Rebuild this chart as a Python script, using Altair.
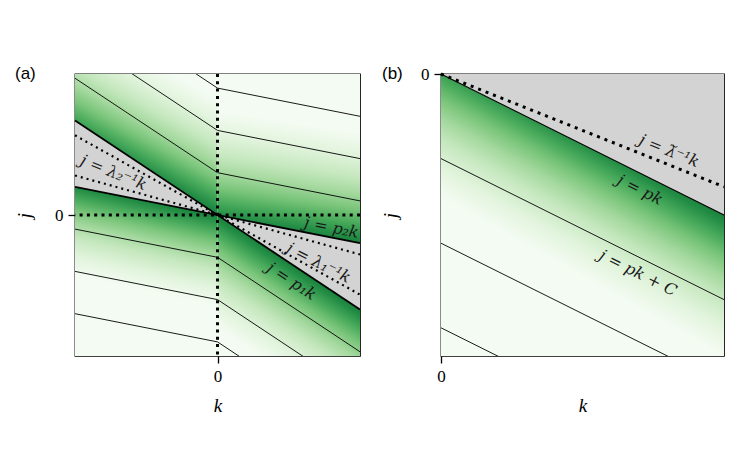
import altair as alt
import pandas as pd

# ---------------- data ----------------
# panel (a): slopes of the boundary lines j = p k, dotted lines j = lambda^-1 k,
# and offsets C of the thin lines j = p k + C
P1 = -0.67
P2 = -0.20
LAM_A = [-0.28, -0.565]
C_A = [0.3, 0.6, 0.9]

# panel (b)
P_B = -0.50
LAM_B = -0.40
C_B = [-0.3, -0.6, -0.9]

LABELS_A = ["j = λ₂⁻¹k", "j = p₂k", "j = λ₁⁻¹k", "j = p₁k"]
LABEL_K_A = [-0.73, 0.80, 0.71, 0.52]
LABEL_J_A = [0.30, -0.09, -0.34, -0.47]
LABEL_ANG_A = [22, 11, 27, 33]

LABELS_B = ["j = λ̆⁻¹k", "j = pk", "j = pk + C"]
LABEL_K_B = [0.806, 0.703, 0.696]
LABEL_J_B = [-0.273, -0.411, -0.706]
LABEL_ANG_B = [22, 26.6, 26.6]

# ---------------- styles ----------------
GREEN_STOPS = [(0.0, "#17803a"), (0.08, "#2a934a"), (0.18, "#4aab5c"),
               (0.30, "#78c479"), (0.45, "#a5d99f"), (0.60, "#c6e8bf"),
               (0.80, "#e2f4dd"), (1.0, "#f4fbf2")]
GRAY = "#d3d3d3"
SERIF = "Liberation Serif"
LABEL_FONT = "DejaVu Serif"
LABEL_SIZE = 16


def gradient(kmin, kmax, jmin, jmax, s, sigma, a_c, a_k, t0):
    """Linear gradient (bbox-normalised) whose parameter t = a_c*c + a_k*k + t0,
    with c = sigma*(j - s*k) the distance from the boundary line."""
    dk = kmax - kmin
    dj = jmax - jmin
    A = dk * (a_k - a_c * sigma * s)
    B = -a_c * sigma * dj
    C0 = a_c * sigma * (jmax - s * kmin) + a_k * kmin + t0
    N = A * A + B * B
    x1 = -C0 * A / N
    y1 = -C0 * B / N
    return alt.Gradient(
        gradient="linear",
        stops=[alt.GradientStop(offset=o, color=c) for o, c in GREEN_STOPS],
        x1=x1, y1=y1, x2=x1 + A / N, y2=y1 + B / N)


def band(k0, k1, lo, hi):
    return pd.DataFrame({"k": [k0, k1], "lo": lo, "hi": hi})


# ---------------- panel (a) ----------------
XA = alt.Scale(domain=[-1, 1], nice=False, zero=False)
YA = alt.Scale(domain=[-1, 1], nice=False, zero=False)
ax_xa = alt.Axis(values=[0], title="k", labelFlush=False)
ax_ya = alt.Axis(values=[0], title="j", labelFlush=False)


def area_a(df, fill):
    return alt.Chart(df).mark_area(color=fill, strokeWidth=0).encode(
        x=alt.X("k:Q", scale=XA, axis=ax_xa),
        y=alt.Y("lo:Q", scale=YA, axis=ax_ya),
        y2="hi:Q")


ul = area_a(band(-1, 0, [P1 * -1, 0], [1, 1]),
            gradient(-1, 0, 0, 1, P1, 1, 1 / 0.82, -0.14, 0.0))
ur = area_a(band(0, 1, [0, P2], [1, 1]),
            gradient(0, 1, P2, 1, P2, 1, 1 / 0.78, -0.06, 0.06))
ll = area_a(band(-1, 0, [-1, -1], [P2 * -1, 0]),
            gradient(-1, 0, -1, -P2, P2, -1, 1 / 0.65, -0.04, 0.0))
lr = area_a(band(0, 1, [-1, -1], [0, P1]),
            gradient(0, 1, -1, 0, P1, -1, 1 / 0.8, 0.0, 0.0))
gl = area_a(band(-1, 0, [-P2, 0], [-P1, 0]), GRAY)
gr = area_a(band(0, 1, [0, P1], [0, P2]), GRAY)

thin_rows = []
for i, c in enumerate(C_A):
    thin_rows += [{"id": f"u{i}", "k": -1, "j": c - P1},
                  {"id": f"u{i}", "k": 0, "j": c},
                  {"id": f"u{i}", "k": 1, "j": c + P2},
                  {"id": f"l{i}", "k": -1, "j": -c - P2},
                  {"id": f"l{i}", "k": 0, "j": -c},
                  {"id": f"l{i}", "k": 1, "j": -c + P1}]
thin_a = alt.Chart(pd.DataFrame(thin_rows)).mark_line(
    color="black", strokeWidth=0.9, clip=True).encode(
    x=alt.X("k:Q", scale=XA, axis=ax_xa),
    y=alt.Y("j:Q", scale=YA, axis=ax_ya),
    detail="id:N", order="k:Q")

bound_rows = []
for name, s in [("p1", P1), ("p2", P2)]:
    bound_rows += [{"id": name, "k": -1, "j": -s}, {"id": name, "k": 1, "j": s}]
bound_a = alt.Chart(pd.DataFrame(bound_rows)).mark_line(
    color="black", strokeWidth=1.8).encode(
    x=alt.X("k:Q", scale=XA, axis=ax_xa),
    y=alt.Y("j:Q", scale=YA, axis=ax_ya),
    detail="id:N", order="k:Q")

lam_rows = []
for i, s in enumerate(LAM_A):
    lam_rows += [{"id": i, "k": -1, "j": -s}, {"id": i, "k": 1, "j": s}]
lam_a = alt.Chart(pd.DataFrame(lam_rows)).mark_line(
    color="black", strokeWidth=2.2, strokeDash=[2, 4]).encode(
    x=alt.X("k:Q", scale=XA, axis=ax_xa),
    y=alt.Y("j:Q", scale=YA, axis=ax_ya),
    detail="id:N", order="k:Q")

zero_df = pd.DataFrame({"z": [0]})
vdot = alt.Chart(zero_df).mark_rule(color="black", strokeWidth=3, strokeDash=[3, 4.3]).encode(
    x=alt.X("z:Q", scale=XA, axis=ax_xa))
hdot = alt.Chart(zero_df).mark_rule(color="black", strokeWidth=3, strokeDash=[3, 4.3]).encode(
    y=alt.Y("z:Q", scale=YA, axis=ax_ya))

lab_a = alt.Chart(pd.DataFrame({"t": LABELS_A, "k": LABEL_K_A, "j": LABEL_J_A,
                                "a": LABEL_ANG_A})).mark_text(
    font=LABEL_FONT, fontStyle="italic", fontSize=LABEL_SIZE, color="#1a1a1a").encode(
    x=alt.X("k:Q", scale=XA, axis=ax_xa),
    y=alt.Y("j:Q", scale=YA, axis=ax_ya),
    text="t:N", angle=alt.Angle("a:Q", scale=None))

tag_a = alt.Chart(pd.DataFrame({"t": ["(a)"]})).mark_text(
    align="left", baseline="middle", font="Liberation Sans", fontSize=17,
    color="black").encode(text="t:N", x=alt.value(-60), y=alt.value(0))

panel_a = alt.layer(ul, ur, ll, lr, gl, gr, thin_a, bound_a, lam_a, vdot, hdot,
                    lab_a, tag_a).properties(width=285, height=282)

# ---------------- panel (b) ----------------
XB = alt.Scale(domain=[0, 1], nice=False, zero=False)
YB = alt.Scale(domain=[-1, 0], nice=False, zero=False)
ax_xb = alt.Axis(values=[0], title="k", labelFlush=False)
ax_yb = alt.Axis(values=[0], title="j", labelFlush=False)


def area_b(df, fill):
    return alt.Chart(df).mark_area(color=fill, strokeWidth=0).encode(
        x=alt.X("k:Q", scale=XB, axis=ax_xb),
        y=alt.Y("lo:Q", scale=YB, axis=ax_yb),
        y2="hi:Q")


gb = area_b(band(0, 1, [-1, -1], [0, P_B]),
            gradient(0, 1, -1, 0, P_B, -1, 2.0, -0.13, 0.13))
grayb = area_b(band(0, 1, [0, P_B], [0, 0]), GRAY)

thin_b_rows = []
for i, c in enumerate(C_B):
    thin_b_rows += [{"id": i, "k": 0, "j": c}, {"id": i, "k": 1, "j": c + P_B}]
thin_b = alt.Chart(pd.DataFrame(thin_b_rows)).mark_line(
    color="black", strokeWidth=0.9, clip=True).encode(
    x=alt.X("k:Q", scale=XB, axis=ax_xb),
    y=alt.Y("j:Q", scale=YB, axis=ax_yb),
    detail="id:N", order="k:Q")

bound_b = alt.Chart(pd.DataFrame({"k": [0, 1], "j": [0, P_B]})).mark_line(
    color="black", strokeWidth=1.3).encode(
    x=alt.X("k:Q", scale=XB, axis=ax_xb),
    y=alt.Y("j:Q", scale=YB, axis=ax_yb))

lam_b = alt.Chart(pd.DataFrame({"k": [0, 1], "j": [0, LAM_B]})).mark_line(
    color="black", strokeWidth=3, strokeDash=[3, 5]).encode(
    x=alt.X("k:Q", scale=XB, axis=ax_xb),
    y=alt.Y("j:Q", scale=YB, axis=ax_yb))

lab_b = alt.Chart(pd.DataFrame({"t": LABELS_B, "k": LABEL_K_B, "j": LABEL_J_B,
                                "a": LABEL_ANG_B})).mark_text(
    font=LABEL_FONT, fontStyle="italic", fontSize=LABEL_SIZE, color="#1a1a1a").encode(
    x=alt.X("k:Q", scale=XB, axis=ax_xb),
    y=alt.Y("j:Q", scale=YB, axis=ax_yb),
    text="t:N", angle=alt.Angle("a:Q", scale=None))

tag_b = alt.Chart(pd.DataFrame({"t": ["(b)"]})).mark_text(
    align="left", baseline="middle", font="Liberation Sans", fontSize=17,
    color="black").encode(text="t:N", x=alt.value(-59), y=alt.value(0))

panel_b = alt.layer(gb, grayb, thin_b, bound_b, lam_b, lab_b, tag_b).properties(
    width=283, height=282)

chart = alt.hconcat(panel_a, panel_b, spacing=14).properties(
    padding={"left": 14, "top": 64, "right": 5, "bottom": 5},
    background="white",
).configure_view(stroke="black", strokeWidth=1.3).configure_axis(
    grid=False, domain=False, tickColor="black", tickSize=7, tickWidth=1.3,
    labelFont=SERIF, labelFontSize=17, labelColor="black", labelPadding=5,
    titleFont=SERIF, titleFontStyle="italic", titleFontWeight="normal",
    titleFontSize=19, titleColor="black", titlePadding=12,
).configure_axisY(titlePadding=20)

chart.save("out.html", embed_options={"renderer": "svg", "actions": False})
